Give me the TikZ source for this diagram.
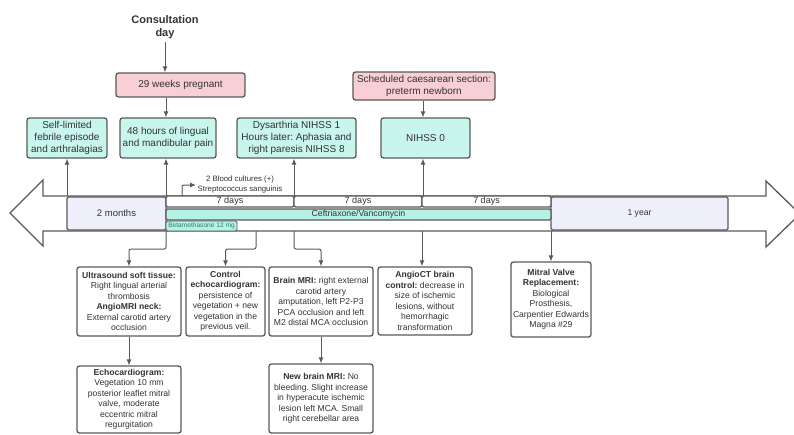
\documentclass[tikz,border=0pt]{standalone}
\usepackage{fontspec}
\setmainfont{Liberation Sans}
\usetikzlibrary{arrows.meta}
\definecolor{ln}{HTML}{5A5A5A}
\definecolor{txt}{HTML}{333333}
\definecolor{pinkf}{HTML}{F8CFD4}
\definecolor{cyanf}{HTML}{C8F5EC}
\definecolor{barf}{HTML}{B6F1E6}
\definecolor{lav}{HTML}{EFEFFB}
\definecolor{tealt}{HTML}{2E7D6E}
\frenchspacing
\begin{document}
\begin{tikzpicture}[x=1pt,y=-1pt,
  box/.style={draw=ln, line width=1.3pt, rounded corners=2.5pt, align=center, inner sep=1pt, text=txt},
  topbox/.style={box, fill=cyanf, font=\fontsize{10}{12}\selectfont},
  pinkbox/.style={box, fill=pinkf, font=\fontsize{10}{12}\selectfont},
  lowbox/.style={box, fill=white, font=\fontsize{8.6}{10.5}\selectfont},
  tlbox/.style={draw=ln, line width=1.1pt, rounded corners=1.5pt, inner sep=0pt, text=txt},
  daybox/.style={tlbox, fill=white, minimum height=11, font=\fontsize{9}{10}\selectfont},
  arr/.style={draw=ln, line width=1pt, rounded corners=2pt, -{Latex[length=6pt,width=5pt]}},
  sz/.style 2 args={minimum width=#1, minimum height=#2}]
\useasboundingbox (0,0) rectangle (794,434);
\clip (0,0) rectangle (794,434);
\fill[white] (0,0) rectangle (794,434);

% big timeline arrow
\draw[draw=ln, line width=1.3pt, fill=white, line join=miter]
  (10,213) -- (43,180) -- (43,196) -- (766,196) -- (766,181) -- (800,214)
  -- (766,247) -- (766,231) -- (43,231) -- (43,246) -- cycle;

% timeline segments
\node[tlbox, fill=lav, sz={99}{33}, font=\fontsize{9.5}{11}\selectfont] (months) at (116.5,213.5) {2 months};
\node[tlbox, fill=lav, sz={177}{33}, font=\fontsize{8.6}{10}\selectfont] (year) at (639.5,213.5) {1 year};
\node[daybox, minimum width=128] (d1) at (230,201.5) {\raisebox{-1pt}{7 days}};
\node[daybox, minimum width=128] (d2) at (358,201.5) {\raisebox{-1pt}{7 days}};
\node[daybox, minimum width=129] (d3) at (486.5,201.5) {\raisebox{-1pt}{7 days}};
\node[tlbox, fill=barf, sz={385}{11}, font=\fontsize{8.7}{10}\selectfont] (ceft) at (358.5,214.5) {Ceftriaxone/Vancomycin};
\node[tlbox, fill=barf, line width=0.9pt, sz={71}{10}, text=tealt, font=\fontsize{6.6}{8}\selectfont] (beta) at (201.5,226) {Betamethasone 12 mg};

% blood cultures
\node[text=txt, align=center, font=\fontsize{7.8}{10}\selectfont] (blood) at (240,184) {2 Blood cultures (+)\\Streptococcus sanguinis};
\coordinate (bc0) at (182,196);
\coordinate (bc1) at (196,185);
\draw[arr] (bc0) |- (bc1);

% top events
\node[font=\bfseries\fontsize{11}{13}\selectfont, text=txt, align=center] (consult) at (165,27) {Consultation\\day};
\node[pinkbox, sz={129}{24}] (preg) at (180.5,85) {29 weeks pregnant};
\node[pinkbox, sz={142}{28}] (sched) at (424,86) {Scheduled caesarean section:\\preterm newborn};
\node[topbox, sz={80}{40}] (selflim) at (67,138) {Self-limited\\febrile episode\\and arthralagias};
\node[topbox, sz={96}{40}] (pain) at (168,138) {48 hours of lingual\\and mandibular pain};
\node[topbox, sz={119}{40}] (dys) at (296.5,138) {Dysarthria NIHSS 1\\Hours later: Aphasia and\\right paresis NIHSS 8};
\node[topbox, sz={89}{40}] (nihss) at (425.5,138) {NIHSS 0};

\coordinate (u1) at (67,196);
\coordinate (u2) at (166,196);
\coordinate (u3) at (294,196);
\coordinate (u4) at (423,196);
\draw[arr] (consult.south) -- (consult.south |- preg.north);
\draw[arr] (u2 |- preg.south) -- (u2 |- pain.north);
\draw[arr] (u4 |- sched.south) -- (u4 |- nihss.north);
\draw[arr] (u1) -- (u1 |- selflim.south);
\draw[arr] (u2) -- (u2 |- pain.south);
\draw[arr] (u3) -- (u3 |- dys.south);
\draw[arr] (u4) -- (u4 |- nihss.south);

% lower boxes
\node[lowbox, sz={104}{69}] (us) at (129,301.5) {\textbf{Ultrasound soft tissue:}\\Right lingual arterial\\thrombosis\\\textbf{AngioMRI neck:}\\External carotid artery\\occlusion};
\node[lowbox, sz={79}{69}] (ctrl) at (225.5,301.5) {\textbf{Control}\\\textbf{echocardiogram:}\\persistence of\\vegetation + new\\vegetation in the\\previous veil.};
\node[lowbox, sz={104}{69}] (bmri) at (321,301.5) {\textbf{Brain MRI:} right external\\carotid artery\\amputation, left P2-P3\\PCA occlusion and left\\M2 distal MCA occlusion};
\node[lowbox, sz={94}{68}] (actt) at (425,301) {\textbf{AngioCT brain}\\\textbf{control:} decrease in\\size of ischemic\\lesions, without\\hemorrhagic\\transformation};
\node[lowbox, sz={80}{75}] (mitral) at (551,299.5) {\textbf{Mitral Valve}\\\textbf{Replacement:}\\Biological\\Prosthesis,\\Carpentier Edwards\\Magna \#29};
\node[lowbox, sz={104}{67}] (echo) at (129,399.5) {\textbf{Echocardiogram:}\\Vegetation 10 mm\\posterior leaflet mitral\\valve, moderate\\eccentric mitral\\regurgitation};
\node[lowbox, sz={104}{69}] (nbmri) at (321,398.5) {\textbf{New brain MRI:} No\\bleeding. Slight increase\\in hyperacute ischemic\\lesion left MCA. Small\\right cerebellar area};

\coordinate (l1) at (166,231);
\coordinate (l2) at (256,231);
\coordinate (l3) at (294,231);
\coordinate (l4) at (422,231);
\coordinate (l5) at (551,231);
\draw[arr] (l1) -- ++(0,18) -| (us.north);
\draw[arr] (l2) -- ++(0,18) -| (ctrl.north);
\draw[arr] (l3) -- ++(0,18) -| (bmri.north);
\draw[arr] (l4) -- (l4 |- actt.north);
\draw[arr] (l5) -- (mitral.north);
\draw[arr] (us.south) -- (echo.north);
\draw[arr] (bmri.south) -- (nbmri.north);
\end{tikzpicture}
\end{document}
